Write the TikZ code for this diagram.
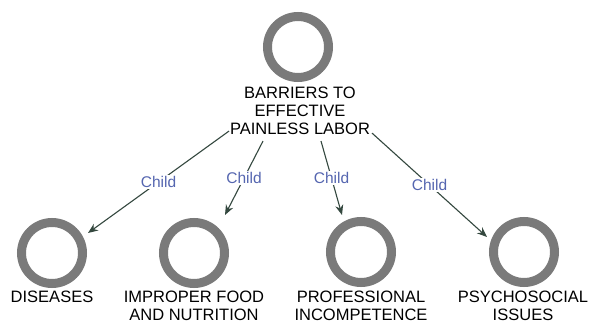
\documentclass[tikz,border=0pt]{standalone}
\usepackage{fontspec}
\setmainfont{Liberation Sans}
\usetikzlibrary{arrows.meta,calc}
\definecolor{ringgray}{HTML}{7A7A7A}
\definecolor{linkcol}{HTML}{34483F}
\definecolor{childblue}{HTML}{5566B0}
\begin{document}
\begin{tikzpicture}[x=1pt,y=-1pt,
  ring/.style={circle,draw=ringgray,line width=9pt,minimum size=61pt,inner sep=0pt,outer sep=0pt},
  caption/.style={anchor=north,align=center,inner sep=0pt,font=\fontsize{16.5}{18}\selectfont},
  link/.style={draw=linkcol,line width=1.1pt,-{Stealth[length=10pt,width=8pt]}},
  lbl/.style={fill=white,text=childblue,font=\fontsize{15.5}{17}\selectfont,inner sep=1.5pt}]
\fill[white] (0,0) rectangle (590,323);
\useasboundingbox (0,0) rectangle (590,323);
% parent
\node[ring] (top) at (298,47) {};
\node[caption] (root) at (300,87) {BARRIERS TO\\EFFECTIVE\\PAINLESS LABOR};
% children
\node[ring] (c1) at (52,253) {};
\node[ring] (c2) at (194,253) {};
\node[ring] (c3) at (361,252) {};
\node[ring] (c4) at (524,252) {};
\node[caption] (t1) at (52,291) {DISEASES};
\node[caption] (t2) at (194,291) {IMPROPER FOOD\\AND NUTRITION};
\node[caption] (t3) at (361,291) {PROFESSIONAL\\INCOMPETENCE};
\node[caption] (t4) at (523,291) {PSYCHOSOCIAL\\ISSUES};
% parent-child links
\draw[link] ([shift={(-71,-4)}]root.south) -- node[lbl]{Child} ($(c1)+(36,-20)$);
\draw[link] ([shift={(-37,6)}]root.south) -- node[lbl]{Child} ($(c2)+(31,-38)$);
\draw[link] ([shift={(21,6)}]root.south) -- node[lbl]{Child} ($(c3)+(-19,-37)$);
\draw[link] ([shift={(72,-2)}]root.south) -- node[lbl]{Child} ($(c4)+(-37,-15)$);
\end{tikzpicture}
\end{document}
